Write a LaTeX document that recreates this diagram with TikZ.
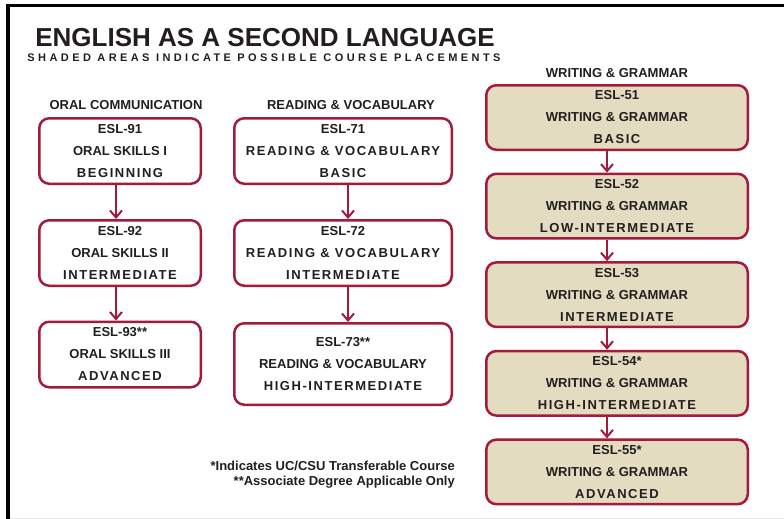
\documentclass[tikz,border=0pt]{standalone}
\usepackage{fontspec}
\setmainfont{Liberation Sans}
\newfontfamily\trackfont[LetterSpace=12]{Liberation Sans}
\newfontfamily\subfont[LetterSpace=31]{Liberation Sans}
\usetikzlibrary{positioning}
\usetikzlibrary{arrows.meta}

\definecolor{esl}{RGB}{165,25,60}
\definecolor{placebg}{RGB}{227,220,193}
\definecolor{ink}{RGB}{35,30,30}

\newcommand{\tracked}[1]{{\trackfont\bfseries #1}}

\begin{document}
\begin{tikzpicture}
    [
    x=1pt, y=-1pt,
    node distance=88.6pt and 220pt,
    on grid,
    every node/.style={inner sep=0pt, text=ink},
    course/.style={draw=esl, line width=2.5pt, rounded corners=10pt, align=center,
        font={\fontsize{13}{22}\selectfont\bfseries}},
    oral/.style={course, fill=white, minimum width=161.5pt, minimum height=65.5pt},
    reading/.style={course, fill=white, minimum width=217.5pt, minimum height=65.5pt},
    writing/.style={course, fill=placebg, minimum width=261.5pt, minimum height=64.5pt},
    header/.style={font={\fontsize{13}{15}\selectfont\bfseries}},
    flow/.style={draw=esl, line width=2pt, -{Straight Barb[length=7pt,width=12pt]}},
    ]

    \useasboundingbox (0,0) rectangle (784,519);
    % frame
    \draw[line width=3.5pt] (784,5.5) -- (8,5.5) -- (8,519);
    \draw[black!10, line width=1pt] (10,518.5) -- (784,518.5);

    % title
    \node (title) at (265,38) {\fontsize{26}{28}\selectfont\bfseries ENGLISH AS A SECOND LANGUAGE};
    \node (subtitle) at (264,58) {\fontsize{11}{13}\selectfont\subfont\bfseries SHADED AREAS INDICATE POSSIBLE COURSE PLACEMENTS};

    % column headers
    \node[header] (h_oral) at (126,105) {ORAL COMMUNICATION};
    \node[header] (h_read) at (351,105) {READING \& VOCABULARY};
    \node[header] (h_write) at (617,73) {WRITING \& GRAMMAR};

    % oral communication
    \node[oral] (esl91) at (120,151) {ESL-91\\ORAL SKILLS I\\\tracked{BEGINNING}};
    \node[oral, below=102pt of esl91] (esl92) {ESL-92\\ORAL SKILLS II\\\tracked{INTERMEDIATE}};
    \node[oral, below=101.5pt of esl92] (esl93) {ESL-93**\\ORAL SKILLS III\\\tracked{ADVANCED}};

    % reading and vocabulary
    \node[reading] (esl71) at (343,151) {ESL-71\\\tracked{READING \& VOCABULARY}\\\tracked{BASIC}};
    \node[reading, below=102pt of esl71] (esl72) {ESL-72\\\tracked{READING \& VOCABULARY}\\\tracked{INTERMEDIATE}};
    \node[reading, minimum height=81.5pt, below=111pt of esl72] (esl73) {ESL-73**\\READING \& VOCABULARY\\\tracked{HIGH-INTERMEDIATE}};

    % writing and grammar
    \node[writing] (esl51) at (617,117.5) {ESL-51\\WRITING \& GRAMMAR\\\tracked{BASIC}};
    \node[writing, below=of esl51] (esl52) {ESL-52\\WRITING \& GRAMMAR\\\tracked{LOW-INTERMEDIATE}};
    \node[writing, below=of esl52] (esl53) {ESL-53\\WRITING \& GRAMMAR\\\tracked{INTERMEDIATE}};
    \node[writing, below=of esl53] (esl54) {ESL-54*\\WRITING \& GRAMMAR\\\tracked{HIGH-INTERMEDIATE}};
    \node[writing, below=of esl54] (esl55) {ESL-55*\\WRITING \& GRAMMAR\\\tracked{ADVANCED}};

    % arrows
    \draw[flow] ([xshift=-4pt]esl91.south) -- ([xshift=-4pt]esl92.north);
    \draw[flow] ([xshift=-4pt]esl92.south) -- ([xshift=-4pt]esl93.north);
    \draw[flow] ([xshift=5pt]esl71.south) -- ([xshift=5pt]esl72.north);
    \draw[flow] ([xshift=5pt]esl72.south) -- ([xshift=5pt]esl73.north);
    \foreach \a/\b in {esl51/esl52, esl52/esl53, esl53/esl54, esl54/esl55}
        \draw[flow] ([xshift=-10pt]\a.south) -- ([xshift=-10pt]\b.north);

    % footnotes
    \node[anchor=east, align=right, font={\fontsize{13}{15}\selectfont\bfseries}] (notes) at (455,475)
        {*Indicates UC/CSU Transferable Course\\**Associate Degree Applicable Only};
\end{tikzpicture}
\end{document}
